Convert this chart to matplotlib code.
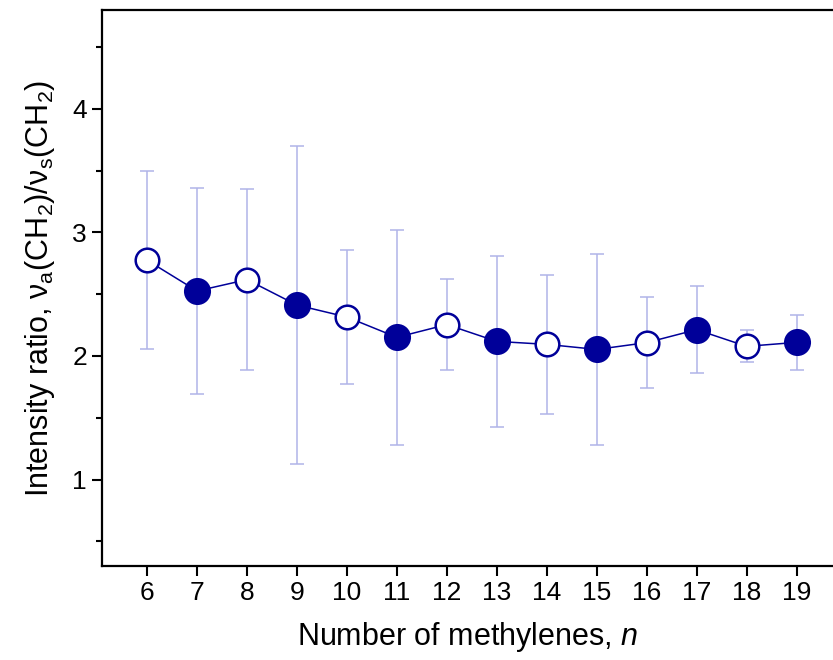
import numpy as np
import matplotlib
matplotlib.use("Agg")
import matplotlib.pyplot as plt

plt.rcParams['font.family'] = ['Liberation Sans', 'DejaVu Sans']
plt.rcParams['mathtext.fontset'] = 'custom'
plt.rcParams['mathtext.rm'] = 'Liberation Sans'
plt.rcParams['mathtext.it'] = 'Liberation Sans:italic'

# chain length and intensity ratio with its spread
n_ch2 = [6, 7, 8, 9, 10, 11, 12, 13, 14, 15, 16, 17, 18, 19]
ratio = [2.775, 2.526, 2.618, 2.412, 2.315, 2.151, 2.254, 2.118, 2.094, 2.053, 2.108, 2.213, 2.078, 2.11]
err = [0.72, 0.83, 0.73, 1.29, 0.54, 0.87, 0.37, 0.69, 0.565, 0.776, 0.37, 0.35, 0.13, 0.22]
# even chain lengths open, odd ones filled
filled = [False, True, False, True, False, True, False, True, False, True, False, True, False, True]

navy = '#000099'
fig = plt.figure(figsize=(8.33, 6.6), dpi=100)
ax = fig.add_axes([0.122, 0.1424, 0.878, 0.8424])

ax.errorbar(n_ch2, ratio, yerr=err, fmt='none', ecolor='#b0b4e8', elinewidth=1.1,
            capsize=5, capthick=1.1, zorder=1)
ax.plot(n_ch2, ratio, '-', color=navy, lw=1.1, zorder=2)
x = np.array(n_ch2)
y = np.array(ratio)
f = np.array(filled)
ax.plot(x[f], y[f], 'o', ms=18, mfc=navy, mec=navy, mew=1.5, ls='none', zorder=3)
ax.plot(x[~f], y[~f], 'o', ms=17, mfc='white', mec=navy, mew=1.8, ls='none', zorder=3)

ax.set_xlim(5.09, 19.73)
ax.set_ylim(0.3, 4.8)
ax.set_xticks(n_ch2)
ax.set_yticks([1, 2, 3, 4])
ax.set_yticks([0.5, 1.5, 2.5, 3.5, 4.5], minor=True)
ax.spines['right'].set_visible(False)
for s in ['left', 'bottom', 'top']:
    ax.spines[s].set_linewidth(1.6)
ax.tick_params(axis='both', which='major', direction='out', length=7, width=1.5, labelsize=19)
ax.tick_params(axis='y', which='minor', direction='out', length=4, width=1.5)

ax.set_xlabel('Number of methylenes, $n$', fontsize=22, labelpad=11)
ax.set_ylabel('Intensity ratio, ν$_\\mathregular{a}$(CH$_\\mathregular{2}$)/ν$_\\mathregular{s}$(CH$_\\mathregular{2}$)',
              fontsize=22, labelpad=11)

fig.savefig('out.png', dpi=100)
